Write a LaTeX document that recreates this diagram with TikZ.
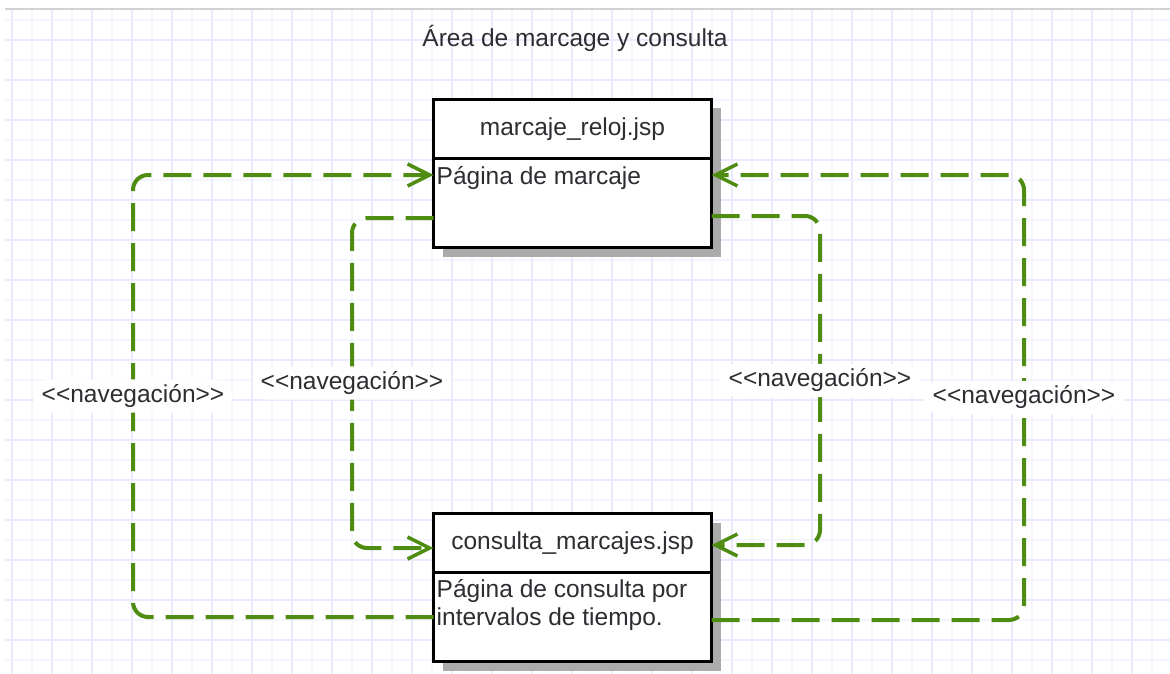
\documentclass[tikz,border=0pt]{standalone}
\usepackage{fontspec}
\setmainfont{Liberation Sans}
\usetikzlibrary{
    arrows.meta,
    positioning,
    shadows,
    calc
}

\definecolor{navgreen}{RGB}{78,140,18}
\definecolor{gridminor}{RGB}{245,245,254}
\definecolor{gridmajor}{RGB}{234,234,252}
\definecolor{labelgray}{RGB}{45,45,50}

\newcommand{\navtag}{<\kern0pt<navegación>\kern0pt>}

\begin{document}
\begin{tikzpicture}[
        x=1pt, y=-1pt,
        font=\fontsize{24.5}{28}\selectfont,
        text=labelgray,
        pagehead/.style={
            rectangle,
            draw=black,
            line width=3pt,
            fill=white,
            outer sep=0pt,
            minimum width=278pt,
            minimum height=59pt,
            drop shadow={shadow xshift=9pt, shadow yshift=-9pt,
                fill=black!33, opacity=1}
        },
        pagebody/.style={
            pagehead,
            minimum height=89pt
        },
        desc/.style={
            anchor=base west,
            inner sep=0pt,
            align=left
        },
        nav/.style={
            navgreen,
            line width=4pt,
            dash pattern=on 28pt off 12pt,
            rounded corners=15pt,
            -{Straight Barb[length=22pt, width=22pt, line width=3.5pt]}
        },
        navlabel/.style={
            fill=white,
            inner xsep=8pt,
            inner ysep=5pt,
            text=labelgray
        }
    ]

    \useasboundingbox (0,0) rectangle (1170,674);
    \fill[white] (0,0) rectangle (1170,674);

    % grid paper
    \begin{scope}[xshift=12pt]
        \draw[gridminor, line width=1.5pt, step=20pt] (-7,674) grid (1158,10);
        \draw[gridmajor, line width=1.5pt, step=40pt] (-7,674) grid (1158,10);
    \end{scope}
    \draw[black!18, line width=1.5pt] (5,9) -- (1170,9);

    \node[anchor=base] (title) at (575,47) {Área de marcage y consulta};

    % pages
    \node[pagehead] (relojhead) at (572.5,129) {marcaje\_reloj.jsp};
    \node[pagebody, below=0pt of relojhead] (relojbody) {};
    \node[desc] (relojdesc) at ($(relojbody.north west)+(3,25.5)$)
        {Página de marcaje};

    \node[pagehead, below=266pt of relojbody] (consultahead)
        {consulta\_marcajes.jsp};
    \node[pagebody, below=0pt of consultahead] (consultabody) {};
    \node[desc] (consultadesc) at ($(consultabody.north west)+(3,52.5)$)
        {Página de consulta por\\intervalos de tiempo.};

    % route columns and connector ends
    \coordinate (outerL) at (133,0);
    \coordinate (innerL) at (352,0);
    \coordinate (innerR) at (820,0);
    \coordinate (outerR) at (1024,0);

    \coordinate (inOL) at ([yshift=28pt]relojbody.west);
    \coordinate (outIL) at ([yshift=-15pt]relojbody.west);
    \coordinate (inIL) at ([yshift=-5pt]consultahead.west);
    \coordinate (outIR) at ([yshift=-13pt]relojbody.east);
    \coordinate (inIR) at ([yshift=-2pt]consultahead.east);
    \coordinate (outOR) at ([yshift=-3pt]consultabody.east);
    \coordinate (inOR) at ([yshift=28pt]relojbody.east);

    \draw[nav] (consultabody.west)
        -- (consultabody.west -| outerL)
        -- node[navlabel] (navOL) {\navtag} (inOL -| outerL)
        -- (inOL);
    \draw[nav] (outIL)
        -- (outIL -| innerL)
        -- node[navlabel] (navIL) {\navtag} (inIL -| innerL)
        -- (inIL);
    \draw[nav] (outIR)
        -- (outIR -| innerR)
        -- node[navlabel] (navIR) {\navtag} (inIR -| innerR)
        -- (inIR);
    \draw[nav] (outOR)
        -- (outOR -| outerR)
        -- node[navlabel] (navOR) {\navtag} (inOR -| outerR)
        -- (inOR);

\end{tikzpicture}
\end{document}
